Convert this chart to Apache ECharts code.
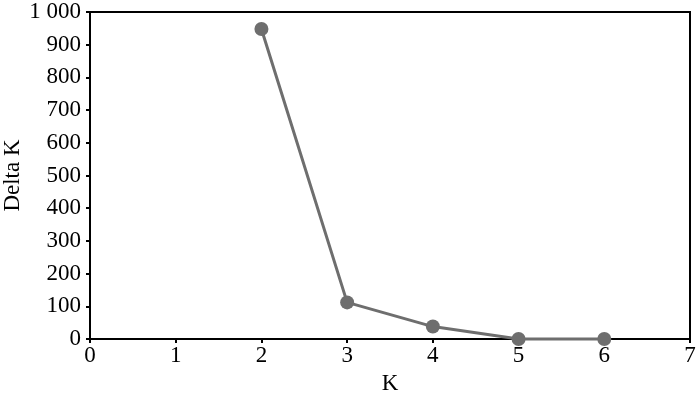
<!DOCTYPE html>
<html><head><meta charset="utf-8">
<script src="https://cdn.jsdelivr.net/npm/echarts@6/dist/echarts.min.js"></script>
<style>html,body{margin:0;padding:0;background:#fff}#c{width:700px;height:398px}</style>
</head><body><div id="c"></div>
<script>
const kValues = [2, 3, 4, 5, 6];
const deltaK = [948, 112, 38, 0, 0];
const xLabel = 'K';
const yLabel = 'Delta K';

const font = '"Liberation Serif", "Times New Roman", serif';
const chart = echarts.init(document.getElementById('c'));
chart.setOption({
  animation: false,
  grid: {left: 90, right: 10, top: 12, bottom: 59, containLabel: false, outerBoundsMode: 'none',
    show: true, borderColor: '#000', borderWidth: 2, backgroundColor: 'transparent'},
  xAxis: {
    type: 'value', min: 0, max: 7, interval: 1,
    name: xLabel, nameLocation: 'middle', nameGap: 33, nameMoveOverlap: false,
    nameTextStyle: {fontFamily: font, fontSize: 23, color: '#000'},
    axisLine: {show: true, lineStyle: {color: '#000', width: 2}},
    axisTick: {show: true, inside: false, length: 4, lineStyle: {color: '#000', width: 2}},
    axisLabel: {fontFamily: font, fontSize: 23, color: '#000', margin: 5},
    splitLine: {show: false}
  },
  yAxis: {
    type: 'value', min: 0, max: 1000, interval: 100,
    name: yLabel, nameLocation: 'middle', nameGap: 66, nameMoveOverlap: false,
    nameTextStyle: {fontFamily: font, fontSize: 23, color: '#000'},
    axisLine: {show: true, lineStyle: {color: '#000', width: 2}},
    axisTick: {show: true, length: 4, lineStyle: {color: '#000', width: 2}},
    axisLabel: {fontFamily: font, fontSize: 23, color: '#000', margin: 9,
      formatter: v => v >= 1000 ? String(v).replace(/\B(?=(\d{3})+(?!\d))/g, ' ') : String(v)},
    splitLine: {show: false}
  },
  series: [{
    type: 'line',
    data: kValues.map((k, i) => [k, deltaK[i]]),
    symbol: 'circle', symbolSize: 14,
    lineStyle: {color: '#6e6e6e', width: 3},
    itemStyle: {color: '#6e6e6e'},
    clip: false
  }]
});
</script></body></html>
